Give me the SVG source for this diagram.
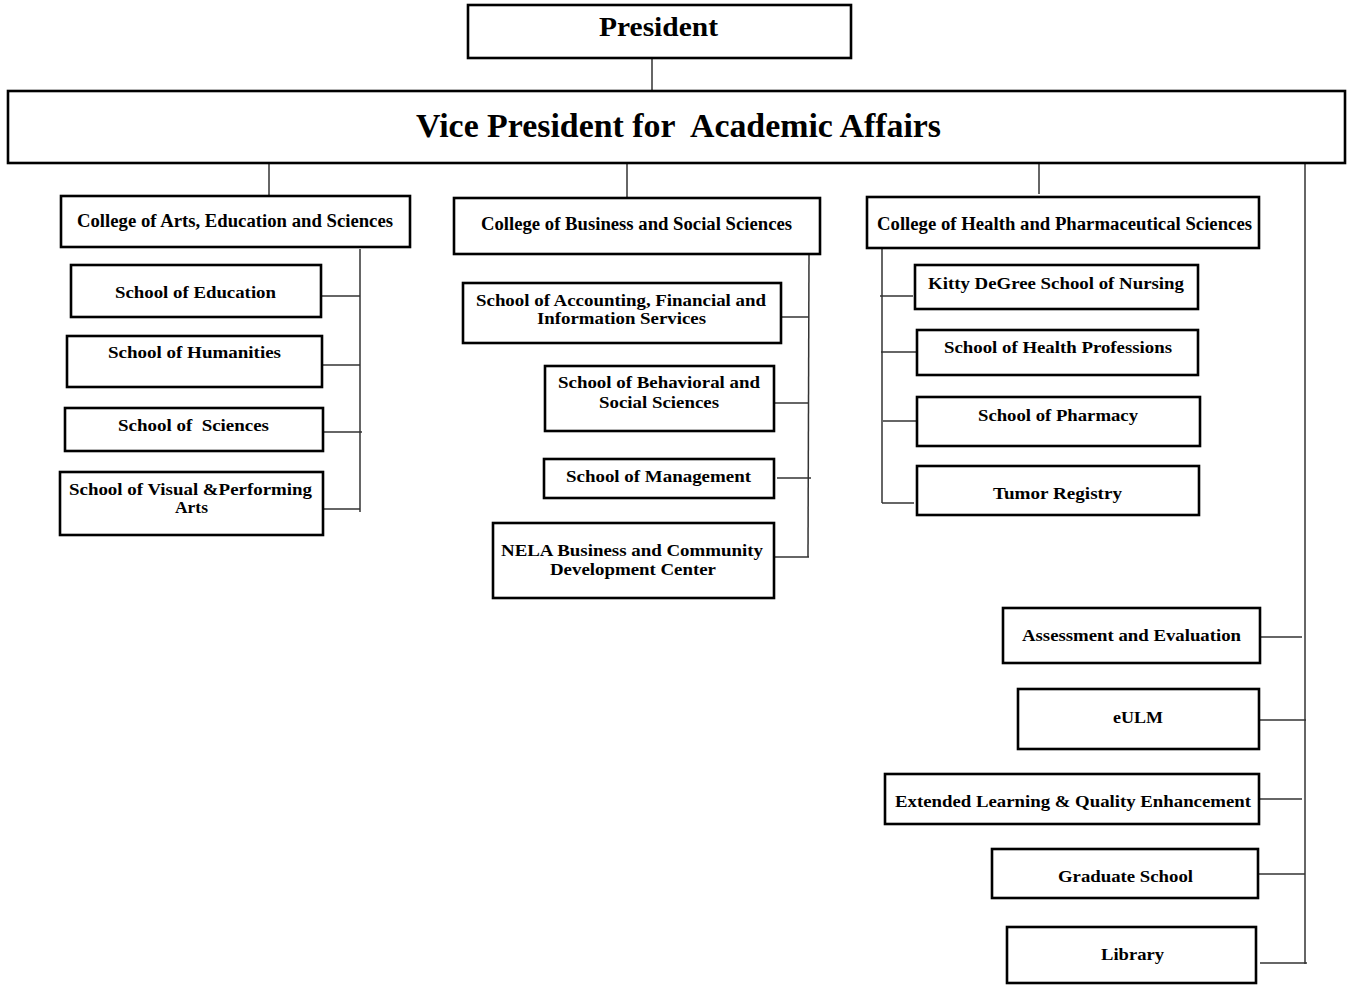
<svg xmlns="http://www.w3.org/2000/svg" width="1349" height="985" viewBox="0 0 1349 985">
<style>
.box{fill:#fff;stroke:#000;stroke-width:2.6}
.t{font-family:"Liberation Serif","Times New Roman",serif;font-weight:bold;fill:#000;text-anchor:start}
.s{font-size:17px}
.c{font-size:18px}
.conn line{stroke:#333;stroke-width:1.5}
</style>
<rect width="1349" height="985" fill="#fff"/>
<g class="conn">
<line x1="652" y1="58" x2="652" y2="91"/>
<line x1="269" y1="163" x2="269" y2="195"/>
<line x1="627" y1="163" x2="627" y2="198"/>
<line x1="1039" y1="163" x2="1039" y2="194"/>
<line x1="1305" y1="163" x2="1305" y2="964"/>
<line x1="360" y1="249" x2="360" y2="512"/>
<line x1="321" y1="296" x2="360" y2="296"/>
<line x1="322" y1="365" x2="360" y2="365"/>
<line x1="323" y1="432" x2="362" y2="432"/>
<line x1="323" y1="509" x2="360" y2="509"/>
<line x1="809" y1="255" x2="808" y2="557"/>
<line x1="781" y1="317" x2="809" y2="317"/>
<line x1="774" y1="403" x2="809" y2="403"/>
<line x1="777" y1="478" x2="811" y2="478"/>
<line x1="774" y1="557" x2="809" y2="557"/>
<line x1="882" y1="249" x2="882" y2="503"/>
<line x1="880" y1="296" x2="913" y2="296"/>
<line x1="881" y1="352" x2="917" y2="352"/>
<line x1="883" y1="421" x2="917" y2="421"/>
<line x1="882" y1="503" x2="914" y2="503"/>
<line x1="1260" y1="637" x2="1302" y2="637"/>
<line x1="1259" y1="720" x2="1306" y2="720"/>
<line x1="1259" y1="799" x2="1302" y2="799"/>
<line x1="1258" y1="874" x2="1305" y2="874"/>
<line x1="1260" y1="963" x2="1307" y2="963"/>
</g>
<g id="president"><rect class="box" x="468" y="5" width="383" height="53"/><text class="t" x="599" y="36" font-size="28" textLength="119" lengthAdjust="spacingAndGlyphs">President</text></g>
<g id="vpaa"><rect class="box" x="8" y="91" width="1337" height="72"/><text class="t" x="416" y="137" font-size="34" textLength="525" lengthAdjust="spacingAndGlyphs" xml:space="preserve">Vice President for  Academic Affairs</text></g>
<g id="caes"><rect class="box" x="61" y="196" width="349" height="51"/><text class="t c" x="77" y="227" textLength="316" lengthAdjust="spacingAndGlyphs">College of Arts, Education and Sciences</text></g>
<g id="cbss"><rect class="box" x="454" y="198" width="366" height="56"/><text class="t c" x="481" y="230" textLength="311" lengthAdjust="spacingAndGlyphs">College of Business and Social Sciences</text></g>
<g id="chps"><rect class="box" x="867" y="197" width="392" height="51"/><text class="t c" x="877" y="230" textLength="375" lengthAdjust="spacingAndGlyphs">College of Health and Pharmaceutical Sciences</text></g>
<g id="edu"><rect class="box" x="71" y="265" width="250" height="52"/><text class="t s" x="115" y="298" textLength="161" lengthAdjust="spacingAndGlyphs">School of Education</text></g>
<g id="hum"><rect class="box" x="67" y="336" width="255" height="51"/><text class="t s" x="108" y="358" textLength="173" lengthAdjust="spacingAndGlyphs">School of Humanities</text></g>
<g id="sci"><rect class="box" x="65" y="408" width="258" height="43"/><text class="t s" x="118" y="431" textLength="151" lengthAdjust="spacingAndGlyphs" xml:space="preserve">School of  Sciences</text></g>
<g id="vpa"><rect class="box" x="60" y="472" width="263" height="63"/><text class="t s" x="69" y="495" textLength="243" lengthAdjust="spacingAndGlyphs">School of Visual &amp;Performing</text><text class="t s" x="175" y="513" textLength="33" lengthAdjust="spacingAndGlyphs">Arts</text></g>
<g id="acct"><rect class="box" x="463" y="283" width="318" height="60"/><text class="t s" x="476" y="306" textLength="290" lengthAdjust="spacingAndGlyphs">School of Accounting, Financial and</text><text class="t s" x="537" y="324" textLength="169" lengthAdjust="spacingAndGlyphs">Information Services</text></g>
<g id="bss"><rect class="box" x="545" y="366" width="229" height="65"/><text class="t s" x="558" y="388" textLength="202" lengthAdjust="spacingAndGlyphs">School of Behavioral and</text><text class="t s" x="599" y="408" textLength="120" lengthAdjust="spacingAndGlyphs">Social Sciences</text></g>
<g id="mgmt"><rect class="box" x="544" y="459" width="230" height="39"/><text class="t s" x="566" y="482" textLength="185" lengthAdjust="spacingAndGlyphs">School of Management</text></g>
<g id="nela"><rect class="box" x="493" y="523" width="281" height="75"/><text class="t s" x="501" y="556" textLength="262" lengthAdjust="spacingAndGlyphs">NELA Business and Community</text><text class="t s" x="550" y="575" textLength="166" lengthAdjust="spacingAndGlyphs">Development Center</text></g>
<g id="nursing"><rect class="box" x="915" y="265" width="283" height="44"/><text class="t s" x="928" y="289" textLength="256" lengthAdjust="spacingAndGlyphs">Kitty DeGree School of Nursing</text></g>
<g id="healthprof"><rect class="box" x="917" y="330" width="281" height="45"/><text class="t s" x="944" y="353" textLength="228" lengthAdjust="spacingAndGlyphs">School of Health Professions</text></g>
<g id="pharmacy"><rect class="box" x="917" y="397" width="283" height="49"/><text class="t s" x="978" y="421" textLength="160" lengthAdjust="spacingAndGlyphs">School of Pharmacy</text></g>
<g id="tumor"><rect class="box" x="917" y="466" width="282" height="49"/><text class="t s" x="993" y="499" textLength="129" lengthAdjust="spacingAndGlyphs">Tumor Registry</text></g>
<g id="assess"><rect class="box" x="1003" y="608" width="257" height="55"/><text class="t s" x="1022" y="641" textLength="219" lengthAdjust="spacingAndGlyphs">Assessment and Evaluation</text></g>
<g id="eulm"><rect class="box" x="1018" y="689" width="241" height="60"/><text class="t s" x="1113" y="723" textLength="50" lengthAdjust="spacingAndGlyphs">eULM</text></g>
<g id="extended"><rect class="box" x="885" y="774" width="374" height="50"/><text class="t s" x="895" y="807" textLength="356" lengthAdjust="spacingAndGlyphs">Extended Learning &amp; Quality Enhancement</text></g>
<g id="graduate"><rect class="box" x="992" y="849" width="266" height="49"/><text class="t s" x="1058" y="882" textLength="135" lengthAdjust="spacingAndGlyphs">Graduate School</text></g>
<g id="library"><rect class="box" x="1007" y="927" width="249" height="56"/><text class="t s" x="1101" y="960" textLength="63" lengthAdjust="spacingAndGlyphs">Library</text></g>
</svg>
